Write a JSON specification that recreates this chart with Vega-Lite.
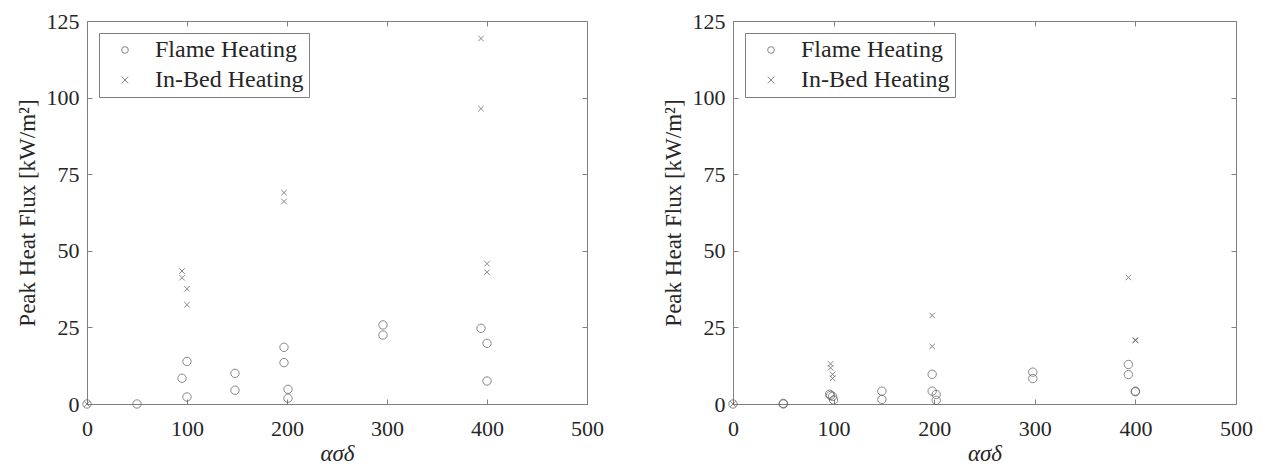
{
  "$schema": "https://vega.github.io/schema/vega-lite/v6.json",
  "padding": {"left": 15, "top": 9, "right": 5, "bottom": 5},
  "background": "white",
  "config": {
    "font": "Liberation Serif",
    "view": {"stroke": "#808080", "strokeWidth": 1},
    "axis": {"grid": false},
    "concat": {"spacing": 146}
  },
  "bounds": "flush",
  "resolve": {"scale": {"shape": "independent"}, "legend": {"shape": "independent"}},
  "datasets": {
    "left": [
      {"series": "Flame Heating", "x": 0, "y": 0},
      {"series": "Flame Heating", "x": 50, "y": 0},
      {"series": "Flame Heating", "x": 95, "y": 8.4},
      {"series": "Flame Heating", "x": 100, "y": 13.9},
      {"series": "Flame Heating", "x": 100, "y": 2.3},
      {"series": "Flame Heating", "x": 148, "y": 10},
      {"series": "Flame Heating", "x": 148, "y": 4.5},
      {"series": "Flame Heating", "x": 197, "y": 18.5},
      {"series": "Flame Heating", "x": 197, "y": 13.5},
      {"series": "Flame Heating", "x": 201, "y": 4.8},
      {"series": "Flame Heating", "x": 201, "y": 1.9},
      {"series": "Flame Heating", "x": 296, "y": 25.8},
      {"series": "Flame Heating", "x": 296, "y": 22.5},
      {"series": "Flame Heating", "x": 394, "y": 24.7},
      {"series": "Flame Heating", "x": 400, "y": 19.8},
      {"series": "Flame Heating", "x": 400, "y": 7.5},
      {"series": "In-Bed Heating", "x": 0, "y": 0},
      {"series": "In-Bed Heating", "x": 95, "y": 43.4},
      {"series": "In-Bed Heating", "x": 95, "y": 41.2},
      {"series": "In-Bed Heating", "x": 100, "y": 37.6},
      {"series": "In-Bed Heating", "x": 100, "y": 32.4},
      {"series": "In-Bed Heating", "x": 197, "y": 69},
      {"series": "In-Bed Heating", "x": 197, "y": 66.1},
      {"series": "In-Bed Heating", "x": 394, "y": 119.3},
      {"series": "In-Bed Heating", "x": 394, "y": 96.4},
      {"series": "In-Bed Heating", "x": 400, "y": 45.8},
      {"series": "In-Bed Heating", "x": 400, "y": 43}
    ],
    "right": [
      {"series": "Flame Heating", "x": 0, "y": 0},
      {"series": "Flame Heating", "x": 50, "y": 0},
      {"series": "Flame Heating", "x": 50, "y": 0.2},
      {"series": "Flame Heating", "x": 96, "y": 3.2},
      {"series": "Flame Heating", "x": 97, "y": 2.8},
      {"series": "Flame Heating", "x": 99, "y": 2.5},
      {"series": "Flame Heating", "x": 100, "y": 1.3},
      {"series": "Flame Heating", "x": 148, "y": 4.2},
      {"series": "Flame Heating", "x": 148, "y": 1.5},
      {"series": "Flame Heating", "x": 198, "y": 9.7},
      {"series": "Flame Heating", "x": 198, "y": 4.2},
      {"series": "Flame Heating", "x": 202, "y": 3.1},
      {"series": "Flame Heating", "x": 202, "y": 1.2},
      {"series": "Flame Heating", "x": 298, "y": 10.4},
      {"series": "Flame Heating", "x": 298, "y": 8.3},
      {"series": "Flame Heating", "x": 393, "y": 12.9},
      {"series": "Flame Heating", "x": 393, "y": 9.6},
      {"series": "Flame Heating", "x": 400, "y": 4.0},
      {"series": "Flame Heating", "x": 400, "y": 4.2},
      {"series": "In-Bed Heating", "x": 0, "y": 0},
      {"series": "In-Bed Heating", "x": 97, "y": 13.1},
      {"series": "In-Bed Heating", "x": 97, "y": 11.8},
      {"series": "In-Bed Heating", "x": 99, "y": 9.7},
      {"series": "In-Bed Heating", "x": 99, "y": 8.4},
      {"series": "In-Bed Heating", "x": 198, "y": 28.9},
      {"series": "In-Bed Heating", "x": 198, "y": 18.8},
      {"series": "In-Bed Heating", "x": 393, "y": 41.3},
      {"series": "In-Bed Heating", "x": 400, "y": 20.7},
      {"series": "In-Bed Heating", "x": 400, "y": 20.9}
    ]
  },
  "hconcat": [
    {
      "width": 500,
      "height": 383,
      "data": {"name": "left"},
      "resolve": {"axis": {"x": "independent", "y": "independent"}},
      "layer": [
        {
          "mark": {"type": "point", "filled": false, "strokeWidth": 1, "color": "#555555"},
          "encoding": {
            "x": {"field": "x", "type": "quantitative", "scale": {"domain": [0, 500], "nice": false}, "axis": {"orient": "bottom", "values": [0, 100, 200, 300, 400, 500], "title": "ασδ", "titleFont": "Liberation Serif", "titleFontSize": 23, "titleFontStyle": "italic", "titleFontWeight": "normal", "titleColor": "#262626", "labelFont": "Liberation Serif", "labelFontSize": 22, "labelColor": "#262626", "labelPadding": 14, "titlePadding": 3, "labelFlush": false, "ticks": false, "domainColor": "#808080"}},
            "y": {"field": "y", "type": "quantitative", "scale": {"domain": [0, 125], "nice": false}, "axis": {"orient": "left", "values": [0, 25, 50, 75, 100, 125], "title": "Peak Heat Flux [kW/m²]", "titleFont": "Liberation Serif", "titleFontSize": 23, "titleFontWeight": "normal", "titleColor": "#262626", "labelFont": "Liberation Serif", "labelFontSize": 22, "labelColor": "#262626", "labelPadding": 8, "titlePadding": 7, "labelFlush": false, "ticks": false, "domainColor": "#808080"}},
            "shape": {"field": "series", "type": "nominal", "scale": {"domain": ["Flame Heating", "In-Bed Heating"], "range": ["circle", "M-1,-1L1,1M-1,1L1,-1"]}, "legend": {"title": null, "orient": "top-left", "offset": 12, "padding": 5, "symbolOffset": 9, "strokeColor": "#808080", "fillColor": "white", "symbolSize": 45, "symbolStrokeColor": "#555555", "symbolStrokeWidth": 1, "symbolFillColor": "transparent", "labelFont": "Liberation Serif", "labelFontSize": 24, "labelColor": "#262626", "labelOffset": 18, "rowPadding": 6}},
            "size": {"condition": {"test": "datum.series === 'Flame Heating'", "value": 70}, "value": 30}
          }
        },
        {
          "mark": {"type": "point", "opacity": 0},
          "encoding": {
            "x": {"field": "x", "type": "quantitative", "axis": {"orient": "top", "offset": -383, "values": [0, 100, 200, 300, 400, 500], "labels": false, "title": null, "domain": false, "tickSize": 5, "tickColor": "#808080"}},
            "y": {"field": "y", "type": "quantitative", "axis": {"orient": "right", "offset": -500, "values": [0, 25, 50, 75, 100, 125], "labels": false, "title": null, "domain": false, "tickSize": 5, "tickColor": "#808080"}}
          }
        },
        {
          "mark": {"type": "point", "opacity": 0},
          "encoding": {
            "x": {"field": "x", "type": "quantitative", "axis": {"orient": "bottom", "offset": -383, "values": [0, 100, 200, 300, 400, 500], "labels": false, "title": null, "domain": false, "tickSize": 5, "tickColor": "#808080"}},
            "y": {"field": "y", "type": "quantitative", "axis": {"orient": "left", "offset": -500, "values": [0, 25, 50, 75, 100, 125], "labels": false, "title": null, "domain": false, "tickSize": 5, "tickColor": "#808080"}}
          }
        }
      ]
    },
    {
      "width": 503,
      "height": 383,
      "data": {"name": "right"},
      "resolve": {"axis": {"x": "independent", "y": "independent"}},
      "layer": [
        {
          "mark": {"type": "point", "filled": false, "strokeWidth": 1, "color": "#555555"},
          "encoding": {
            "x": {"field": "x", "type": "quantitative", "scale": {"domain": [0, 500], "nice": false}, "axis": {"orient": "bottom", "values": [0, 100, 200, 300, 400, 500], "title": "ασδ", "titleFont": "Liberation Serif", "titleFontSize": 23, "titleFontStyle": "italic", "titleFontWeight": "normal", "titleColor": "#262626", "labelFont": "Liberation Serif", "labelFontSize": 22, "labelColor": "#262626", "labelPadding": 14, "titlePadding": 3, "labelFlush": false, "ticks": false, "domainColor": "#808080"}},
            "y": {"field": "y", "type": "quantitative", "scale": {"domain": [0, 125], "nice": false}, "axis": {"orient": "left", "values": [0, 25, 50, 75, 100, 125], "title": "Peak Heat Flux [kW/m²]", "titleFont": "Liberation Serif", "titleFontSize": 23, "titleFontWeight": "normal", "titleColor": "#262626", "labelFont": "Liberation Serif", "labelFontSize": 22, "labelColor": "#262626", "labelPadding": 8, "titlePadding": 7, "labelFlush": false, "ticks": false, "domainColor": "#808080"}},
            "shape": {"field": "series", "type": "nominal", "scale": {"domain": ["Flame Heating", "In-Bed Heating"], "range": ["circle", "M-1,-1L1,1M-1,1L1,-1"]}, "legend": {"title": null, "orient": "top-left", "offset": 12, "padding": 5, "symbolOffset": 9, "strokeColor": "#808080", "fillColor": "white", "symbolSize": 45, "symbolStrokeColor": "#555555", "symbolStrokeWidth": 1, "symbolFillColor": "transparent", "labelFont": "Liberation Serif", "labelFontSize": 24, "labelColor": "#262626", "labelOffset": 18, "rowPadding": 6}},
            "size": {"condition": {"test": "datum.series === 'Flame Heating'", "value": 70}, "value": 30}
          }
        },
        {
          "mark": {"type": "point", "opacity": 0},
          "encoding": {
            "x": {"field": "x", "type": "quantitative", "axis": {"orient": "top", "offset": -383, "values": [0, 100, 200, 300, 400, 500], "labels": false, "title": null, "domain": false, "tickSize": 5, "tickColor": "#808080"}},
            "y": {"field": "y", "type": "quantitative", "axis": {"orient": "right", "offset": -503, "values": [0, 25, 50, 75, 100, 125], "labels": false, "title": null, "domain": false, "tickSize": 5, "tickColor": "#808080"}}
          }
        },
        {
          "mark": {"type": "point", "opacity": 0},
          "encoding": {
            "x": {"field": "x", "type": "quantitative", "axis": {"orient": "bottom", "offset": -383, "values": [0, 100, 200, 300, 400, 500], "labels": false, "title": null, "domain": false, "tickSize": 5, "tickColor": "#808080"}},
            "y": {"field": "y", "type": "quantitative", "axis": {"orient": "left", "offset": -503, "values": [0, 25, 50, 75, 100, 125], "labels": false, "title": null, "domain": false, "tickSize": 5, "tickColor": "#808080"}}
          }
        }
      ]
    }
  ]
}
